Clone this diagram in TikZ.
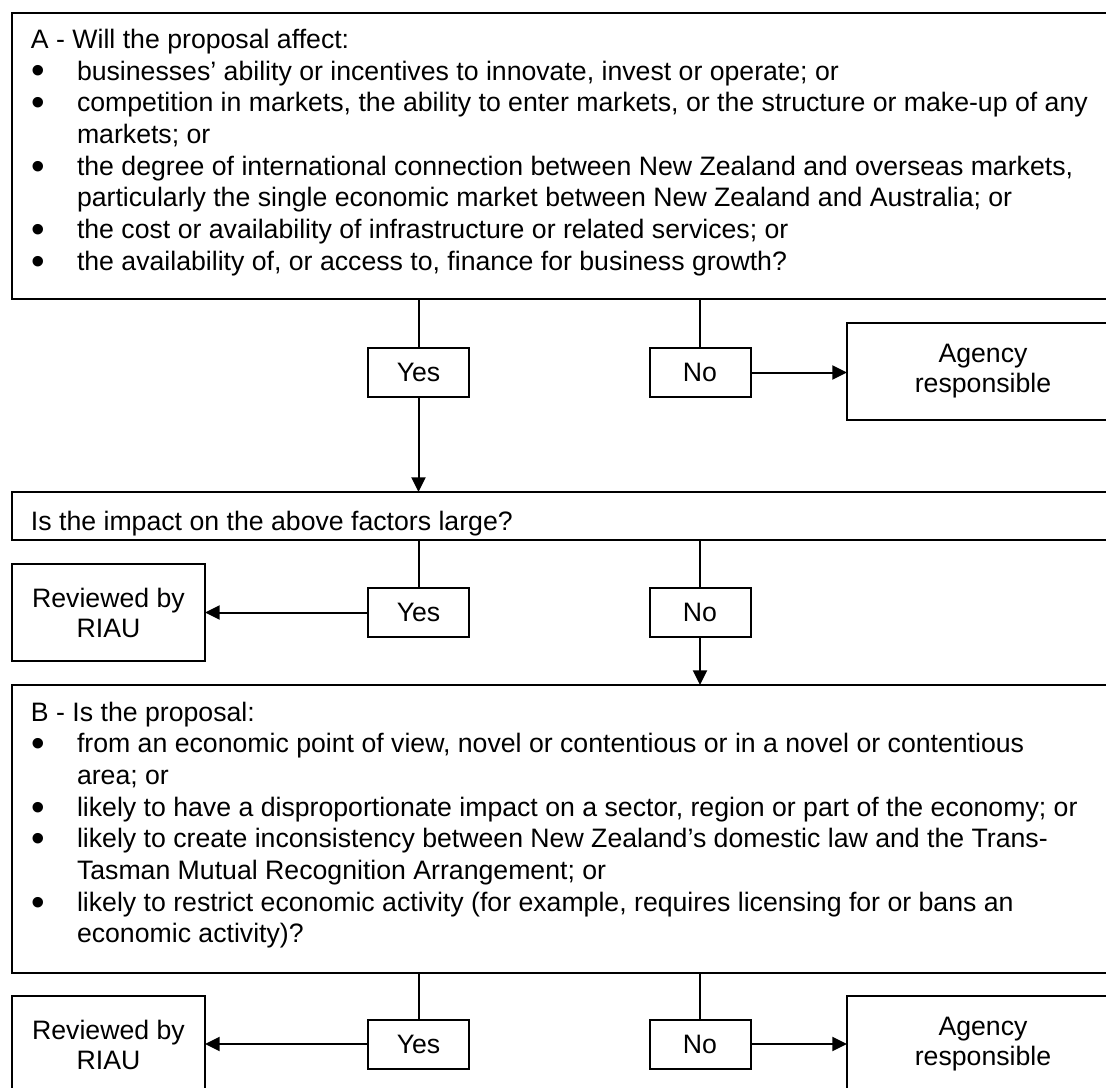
\documentclass[tikz,border=0pt]{standalone}
\usepackage{fontspec}
\setmainfont{Liberation Sans}
\usetikzlibrary{arrows.meta}
\begin{document}
\begin{tikzpicture}[x=0.75pt,y=-0.75pt,
  every node/.style={font=\fontsize{20pt}{22.5pt}\selectfont, inner sep=0pt, outer sep=0pt},
  frame/.style={draw, line width=1.5pt, rectangle, anchor=north west},
  txt/.style={anchor=base west},
  dot/.style={anchor=base, font=\fontsize{29pt}{29pt}\selectfont},
  ans/.style={draw, line width=1.5pt, minimum width=75.75pt, minimum height=36.75pt},
  outcome/.style={draw, line width=1.5pt, align=center, minimum height=72.75pt},
  link/.style={line width=1.5pt},
  arr/.style={line width=1.5pt, -{Triangle[length=11pt,width=10.5pt]}},
]
\clip (0,0) rectangle (1106,1088);

% ---------- Box A ----------
\node[frame, minimum width=838.5pt, minimum height=214.5pt] (A) at (12,13) {};
\node[txt] (a0) at (31,48.3) {A - Will the proposal affect:};
\node[dot] (ab1) at (38,84) {\smash{•}};
\node[txt] (a1) at (77,80) {businesses’ ability or incentives to innovate, invest or operate; or};
\node[dot] (ab2) at (38,115.7) {\smash{•}};
\node[txt] (a2) at (77,111.7) {competition in markets, the ability to enter markets, or the structure or make-up of any};
\node[txt] (a3) at (77,143.3) {markets; or};
\node[dot] (ab3) at (38,179) {\smash{•}};
\node[txt] (a4) at (77,175) {the degree of international connection between New Zealand and overseas markets,};
\node[txt] (a5) at (77,206.6) {particularly the single economic market between New Zealand and Australia; or};
\node[dot] (ab4) at (38,242.3) {\smash{•}};
\node[txt] (a6) at (77,238.3) {the cost or availability of infrastructure or related services; or};
\node[dot] (ab5) at (38,274) {\smash{•}};
\node[txt] (a7) at (77,270) {the availability of, or access to, finance for business growth?};

% ---------- first answers ----------
\node[ans] (y1) at (418.5,372.5) {Yes};
\node[ans] (n1) at (700,372.5) {No};
\node[outcome, minimum width=204pt] (ag1) at (983,371.5) {Agency\\responsible};

\draw[link] (y1.north) -- (y1.north |- A.south);
\draw[link] (n1.north) -- (n1.north |- A.south);
\draw[arr] (n1.east) -- (n1.east -| ag1.west);

% ---------- Impact question ----------
\node[frame, minimum width=838.5pt, minimum height=36pt] (Q) at (12,492) {};
\begin{scope}
  \clip (12,493) rectangle (1130,536.5);
  \node[txt] (qt) at (31,530) {Is the impact on the above factors large?};
\end{scope}
\draw[arr] (y1.south) -- (y1.south |- Q.north);

% ---------- second answers ----------
\node[outcome, minimum width=144.75pt] (r2) at (108.5,612.5) {Reviewed by\\RIAU};
\node[ans] (y2) at (418.5,612.5) {Yes};
\node[ans] (n2) at (700,612.5) {No};
\draw[link] (y2.north) -- (y2.north |- Q.south);
\draw[link] (n2.north) -- (n2.north |- Q.south);
\draw[arr] (y2.west) -- (y2.west -| r2.east);

% ---------- Box B ----------
\node[frame, minimum width=838.5pt, minimum height=216pt] (B) at (12,685) {};
\draw[arr] (n2.south) -- (n2.south |- B.north);
\node[txt] (b0) at (31,721) {B - Is the proposal:};
\node[dot] (bb1) at (38,756.7) {\smash{•}};
\node[txt] (b1) at (77,752.7) {from an economic point of view, novel or contentious or in a novel or contentious};
\node[txt] (b2) at (77,784.3) {area; or};
\node[dot] (bb2) at (38,820) {\smash{•}};
\node[txt] (b3) at (77,816) {likely to have a disproportionate impact on a sector, region or part of the economy; or};
\node[dot] (bb3) at (38,851.7) {\smash{•}};
\node[txt] (b4) at (77,847.7) {likely to create inconsistency between New Zealand’s domestic law and the Trans-};
\node[txt] (b5) at (77,879.3) {Tasman Mutual Recognition Arrangement; or};
\node[dot] (bb4) at (38,915) {\smash{•}};
\node[txt] (b6) at (77,911) {likely to restrict economic activity (for example, requires licensing for or bans an};
\node[txt] (b7) at (77,942.7) {economic activity)?};

% ---------- third answers ----------
\node[outcome, minimum width=144.75pt] (r3) at (108.5,1044.5) {Reviewed by\\RIAU};
\node[ans] (y3) at (418.5,1044) {Yes};
\node[ans] (n3) at (700,1044) {No};
\node[outcome, minimum width=204pt] (ag3) at (983,1044.5) {Agency\\responsible};
\draw[link] (y3.north) -- (y3.north |- B.south);
\draw[link] (n3.north) -- (n3.north |- B.south);
\draw[arr] (y3.west) -- (y3.west -| r3.east);
\draw[arr] (n3.east) -- (n3.east -| ag3.west);
\end{tikzpicture}
\end{document}
